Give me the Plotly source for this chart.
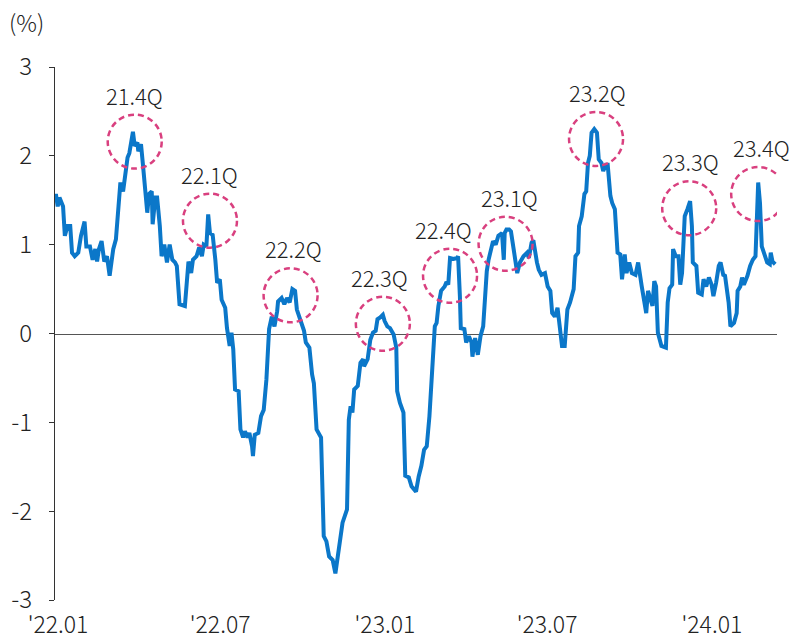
import plotly.graph_objects as go

# Daily spread series (%), Jan 2022 - Mar 2024
dates = [
    "2022-01-01", "2022-01-02", "2022-01-04", "2022-01-06", "2022-01-10", "2022-01-12", "2022-01-15",
    "2022-01-18", "2022-01-20", "2022-01-23", "2022-01-27", "2022-01-30", "2022-02-03", "2022-02-05",
    "2022-02-09", "2022-02-12", "2022-02-15", "2022-02-17", "2022-02-19", "2022-02-22", "2022-02-25",
    "2022-02-28", "2022-03-03", "2022-03-07", "2022-03-10", "2022-03-13", "2022-03-15", "2022-03-18",
    "2022-03-20", "2022-03-23", "2022-03-25", "2022-03-29", "2022-03-31", "2022-04-03", "2022-04-04",
    "2022-04-07", "2022-04-09", "2022-04-11", "2022-04-14", "2022-04-16", "2022-04-19", "2022-04-20",
    "2022-04-23", "2022-04-25", "2022-04-28", "2022-04-30", "2022-05-03", "2022-05-06", "2022-05-09",
    "2022-05-12", "2022-05-15", "2022-05-17", "2022-05-20", "2022-05-26", "2022-05-29", "2022-05-30",
    "2022-06-02", "2022-06-04", "2022-06-08", "2022-06-11", "2022-06-14", "2022-06-16", "2022-06-19",
    "2022-06-21", "2022-06-23", "2022-06-26", "2022-06-29", "2022-07-01", "2022-07-04", "2022-07-06",
    "2022-07-10", "2022-07-12", "2022-07-15", "2022-07-17", "2022-07-19", "2022-07-21", "2022-07-25",
    "2022-07-27", "2022-07-30", "2022-08-01", "2022-08-04", "2022-08-06", "2022-08-09", "2022-08-10",
    "2022-08-12", "2022-08-16", "2022-08-19", "2022-08-22", "2022-08-25", "2022-08-26", "2022-08-28",
    "2022-08-31", "2022-09-03", "2022-09-06", "2022-09-07", "2022-09-11", "2022-09-14", "2022-09-17",
    "2022-09-20", "2022-09-23", "2022-09-26", "2022-09-28", "2022-10-01", "2022-10-03", "2022-10-06",
    "2022-10-08", "2022-10-12", "2022-10-15", "2022-10-17", "2022-10-20", "2022-10-25", "2022-10-28",
    "2022-10-31", "2022-11-03", "2022-11-07", "2022-11-10", "2022-11-12", "2022-11-15", "2022-11-18",
    "2022-11-23", "2022-11-25", "2022-11-27", "2022-11-29", "2022-12-01", "2022-12-05", "2022-12-08",
    "2022-12-11", "2022-12-12", "2022-12-16", "2022-12-19", "2022-12-22", "2022-12-25", "2022-12-27",
    "2022-12-30",
    "2023-01-02", "2023-01-04", "2023-01-07", "2023-01-10", "2023-01-14", "2023-01-17", "2023-01-18",
    "2023-01-21", "2023-01-25", "2023-01-27", "2023-01-31", "2023-02-03", "2023-02-08", "2023-02-11",
    "2023-02-14", "2023-02-17", "2023-02-20", "2023-02-23", "2023-02-26", "2023-03-01", "2023-03-03",
    "2023-03-05", "2023-03-08", "2023-03-12", "2023-03-14", "2023-03-16", "2023-03-18", "2023-03-22",
    "2023-03-26", "2023-03-27", "2023-03-29", "2023-03-30", "2023-04-03", "2023-04-05", "2023-04-08",
    "2023-04-11", "2023-04-12", "2023-04-15", "2023-04-18", "2023-04-21", "2023-04-24", "2023-04-26",
    "2023-04-28", "2023-04-30", "2023-05-03", "2023-05-05", "2023-05-08", "2023-05-11", "2023-05-15",
    "2023-05-17", "2023-05-18", "2023-05-20", "2023-05-23", "2023-05-25", "2023-05-28", "2023-06-01",
    "2023-06-04", "2023-06-08", "2023-06-12", "2023-06-14", "2023-06-17", "2023-06-19", "2023-06-23",
    "2023-06-25", "2023-06-28", "2023-07-02", "2023-07-05", "2023-07-08", "2023-07-10", "2023-07-13",
    "2023-07-16", "2023-07-19", "2023-07-21", "2023-07-24", "2023-07-27", "2023-07-30", "2023-08-03",
    "2023-08-05", "2023-08-08", "2023-08-09", "2023-08-12", "2023-08-15", "2023-08-17", "2023-08-19",
    "2023-08-21", "2023-08-23", "2023-08-26", "2023-08-29", "2023-08-31", "2023-09-03", "2023-09-05",
    "2023-09-08", "2023-09-10", "2023-09-13", "2023-09-15", "2023-09-18", "2023-09-21", "2023-09-24",
    "2023-09-26", "2023-09-29", "2023-10-01", "2023-10-04", "2023-10-07", "2023-10-11", "2023-10-14",
    "2023-10-18", "2023-10-21", "2023-10-23", "2023-10-25", "2023-10-27", "2023-10-30", "2023-11-01",
    "2023-11-03", "2023-11-05", "2023-11-09", "2023-11-14", "2023-11-16", "2023-11-18", "2023-11-21",
    "2023-11-22", "2023-11-25", "2023-11-28", "2023-11-30", "2023-12-02", "2023-12-04", "2023-12-05",
    "2023-12-08", "2023-12-11", "2023-12-13", "2023-12-14", "2023-12-18", "2023-12-20", "2023-12-24",
    "2023-12-26", "2023-12-29",
    "2024-01-01", "2024-01-04", "2024-01-06", "2024-01-09", "2024-01-12", "2024-01-14", "2024-01-17",
    "2024-01-19", "2024-01-23", "2024-01-25", "2024-01-29", "2024-02-01", "2024-02-02", "2024-02-05",
    "2024-02-07", "2024-02-09", "2024-02-13", "2024-02-16", "2024-02-19", "2024-02-22", "2024-02-24",
    "2024-02-25", "2024-02-27", "2024-02-29", "2024-03-03", "2024-03-06", "2024-03-09", "2024-03-10",
    "2024-03-12", "2024-03-15",
]

values = [
    1.50, 1.57, 1.43, 1.53, 1.43, 1.10, 1.21,
    1.21, 0.91, 0.87, 0.91, 1.10, 1.26, 0.98,
    0.98, 0.83, 0.95, 0.81, 0.95, 1.04, 0.81,
    0.87, 0.65, 0.95, 1.06, 1.55, 1.70, 1.60,
    1.77, 1.98, 2.03, 2.27, 2.11, 2.15, 2.05,
    2.13, 1.92, 1.70, 1.36, 1.57, 1.60, 1.23,
    1.53, 1.53, 1.21, 0.87, 1.00, 0.80, 1.00,
    0.83, 0.80, 0.76, 0.33, 0.31, 0.65, 0.81,
    0.68, 0.83, 0.87, 0.97, 0.87, 1.00, 0.98,
    1.34, 1.13, 1.11, 0.83, 0.57, 0.61, 0.38,
    0.29, 0.06, -0.14, 0.01, -0.18, -0.63, -0.65,
    -1.08, -1.17, -1.10, -1.17, -1.12, -1.27, -1.38,
    -1.14, -1.12, -0.93, -0.86, -0.52, -0.26, 0.05,
    0.19, 0.08, 0.25, 0.36, 0.40, 0.33, 0.40,
    0.35, 0.50, 0.48, 0.27, 0.19, 0.14, 0.03,
    -0.10, -0.16, -0.46, -0.56, -1.08, -1.17, -2.28,
    -2.34, -2.51, -2.55, -2.70, -2.55, -2.36, -2.13,
    -1.98, -0.97, -0.82, -0.89, -0.63, -0.59, -0.33,
    -0.29, -0.37, -0.29, -0.07, 0.01, 0.03, 0.16,
    0.18,
    0.21, 0.14, 0.08, 0.06, -0.01, -0.16, -0.65,
    -0.78, -0.89, -1.60, -1.62, -1.72, -1.78, -1.61,
    -1.49, -1.31, -1.27, -0.93, -0.37, 0.08, 0.12,
    0.31, 0.48, 0.53, 0.58, 0.55, 0.85, 0.84,
    0.85, 0.87, 0.42, 0.06, 0.05, -0.10, -0.03,
    -0.10, -0.26, -0.05, -0.24, -0.03, 0.08, 0.38,
    0.70, 0.83, 0.95, 1.04, 1.00, 1.10, 1.13,
    0.83, 1.13, 1.17, 1.17, 1.15, 0.95, 0.68,
    0.80, 0.87, 0.91, 0.85, 1.02, 1.05, 0.80,
    0.72, 0.66, 0.68, 0.53, 0.48, 0.23, 0.19,
    0.29, -0.03, -0.14, -0.14, 0.27, 0.35, 0.50,
    0.87, 0.91, 1.21, 1.32, 1.57, 1.60, 1.92,
    2.00, 2.26, 2.30, 2.26, 1.96, 1.92, 1.83,
    1.90, 1.90, 1.55, 1.47, 1.40, 0.91, 0.89,
    0.61, 0.89, 0.68, 0.80, 0.68, 0.66, 0.80,
    0.53, 0.38, 0.23, 0.48, 0.42, 0.31, 0.59,
    0.53, 0.01, -0.14, -0.16, 0.35, 0.51, 0.55,
    0.95, 0.87, 0.87, 0.55, 0.68, 1.13, 1.32,
    1.40, 1.49, 1.21, 0.80, 0.76, 0.46, 0.44,
    0.61, 0.53,
    0.63, 0.55, 0.42, 0.57, 0.76, 0.80, 0.66,
    0.65, 0.35, 0.08, 0.12, 0.23, 0.48, 0.53,
    0.63, 0.55, 0.65, 0.76, 0.83, 0.87, 1.40,
    1.70, 1.47, 0.98, 0.89, 0.80, 0.78, 0.91,
    0.81, 0.78,
]

# Quarter highlights: label, centre date, centre value
quarter_labels = ["21.4Q", "22.1Q", "22.2Q", "22.3Q", "22.4Q", "23.1Q", "23.2Q", "23.3Q", "23.4Q"]
quarter_dates = ["2022-03-31", "2022-06-23", "2022-09-21", "2023-01-02", "2023-03-18",
                 "2023-05-19", "2023-08-28", "2023-12-10", "2024-02-25"]
quarter_values = [2.16, 1.27, 0.43, 0.11, 0.65, 1.01, 2.19, 1.41, 1.57]
label_xshift = [0, 0, 3, -3, -7, 4, 1, 1, 3]

tick_dates = ["2022-01-01", "2022-07-01", "2023-01-01", "2023-07-01", "2024-01-01"]
tick_text = ["'22.01", "'22.07", "'23.01", "'23.07", "'24.01"]
y_ticks = [-3, -2, -1, 0, 1, 2, 3]
y_tick_text = ["-3", "-2", "-1", "0", "1", "2", "3"]

x_range = ["2022-01-01", "2024-03-17"]

FONT = "Noto Sans CJK KR, Noto Sans, sans-serif"
TEXT = "#222222"
BLUE = "#0B77C9"
PINK = "#D9407F"
R = 27  # highlight circle radius, px

fig = go.Figure()

fig.add_trace(go.Scatter(
    x=dates, y=values, mode="lines",
    line=dict(color=BLUE, width=4),
    hoverinfo="skip", showlegend=False,
))

# dashed circles with quarter labels
for lab, d, v, dx in zip(quarter_labels, quarter_dates, quarter_values, label_xshift):
    fig.add_shape(
        type="circle", xref="x", yref="y",
        xsizemode="pixel", ysizemode="pixel",
        xanchor=d, yanchor=v,
        x0=-R, x1=R, y0=-R, y1=R,
        line=dict(color=PINK, width=2.5, dash="6px,4px"),
        layer="above",
    )
    fig.add_annotation(
        x=d, y=v, text=lab, showarrow=False,
        xanchor="center", yanchor="bottom",
        yshift=R + 2, xshift=dx,
        font=dict(family=FONT, size=22, color=TEXT, weight=300),
    )

# unit label
fig.add_annotation(
    x=0, y=1, xref="paper", yref="paper", text="(%)", showarrow=False,
    xanchor="left", yanchor="middle", xshift=-48, yshift=45,
    font=dict(family=FONT, size=23, color=TEXT, weight=300),
)

fig.update_layout(
    width=795, height=641,
    margin=dict(l=55, r=18, t=67, b=41, autoexpand=False),
    paper_bgcolor="white", plot_bgcolor="white",
    font=dict(family=FONT, size=23, color=TEXT, weight=300),
    xaxis=dict(
        range=x_range, tickvals=tick_dates, ticktext=tick_text,
        showgrid=False, zeroline=False, showline=False, ticks="",
        ticklabelstandoff=9, ticklabelshift=3, automargin=False,
        tickfont=dict(family=FONT, size=23, color=TEXT, weight=300),
    ),
    xaxis2=dict(
        range=x_range, overlaying="x", anchor="free", position=0.5,
        tickvals=tick_dates, showticklabels=False,
        showgrid=False, zeroline=False, automargin=False,
        showline=True, linecolor="#555555", linewidth=1.2,
        ticks="outside", ticklen=6, tickcolor="#555555", tickwidth=1.2,
        layer="below traces",
    ),
    yaxis=dict(
        range=[-3, 3], tickvals=y_ticks, ticktext=y_tick_text,
        showgrid=False, zeroline=False, automargin=False,
        showline=True, linecolor="#333333", linewidth=1,
        ticks="outside", ticklen=5, tickcolor="#333333",
        ticklabelstandoff=12,
        tickfont=dict(family=FONT, size=24, color=TEXT, weight=300),
    ),
)

# carrier for the zero-line axis
fig.add_trace(go.Scatter(x=[], y=[], xaxis="x2", yaxis="y", showlegend=False, hoverinfo="skip"))

fig.write_html("out.html")
